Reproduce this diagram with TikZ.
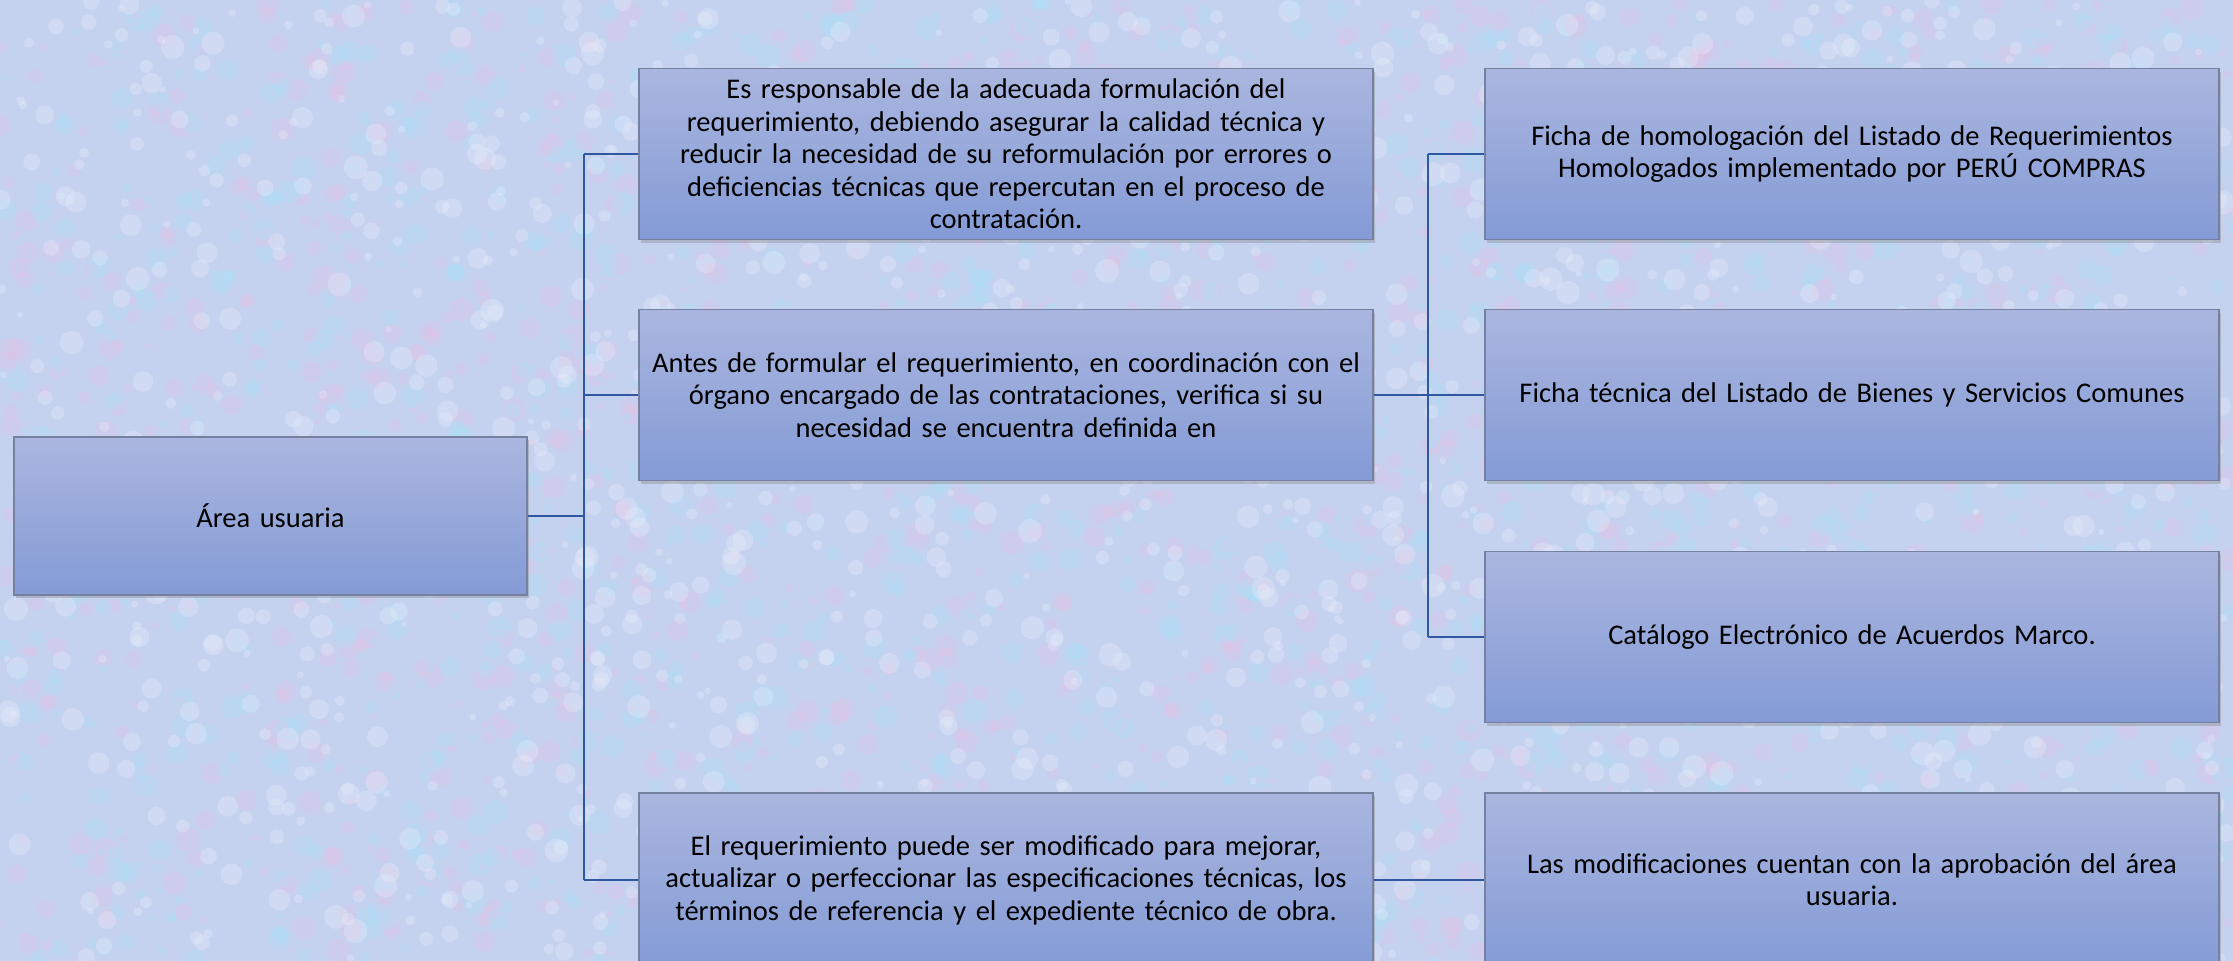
\documentclass[tikz,border=0pt]{standalone}
\usepackage{fontspec}
\setmainfont{Carlito}
\usetikzlibrary{shadows}
\definecolor{bgbase}{RGB}{196,210,240}
\definecolor{bgpink}{RGB}{232,192,228}
\definecolor{bgcyan}{RGB}{170,226,248}
\definecolor{bgwhite}{RGB}{236,238,250}
\definecolor{boxtop}{RGB}{170,182,223}
\definecolor{boxbot}{RGB}{132,155,214}
\definecolor{boxline}{RGB}{118,128,160}
\definecolor{linkblue}{RGB}{47,88,160}
\tikzset{
  card/.style={draw=boxline, line width=1.5pt, top color=boxtop, bottom color=boxbot,
    rectangle, inner sep=0pt, align=center, text=black,
    font=\fontsize{28.5}{32.4}\selectfont,
    drop shadow={shadow xshift=2pt, shadow yshift=-3pt, opacity=0.35}},
  wide/.style={card, minimum width=734pt, minimum height=171pt, text width=725pt},
  link/.style={draw=linkblue, line width=2.6pt}
}
\begin{document}
\begin{tikzpicture}[x=1pt,y=-1pt]
\useasboundingbox (0,0) rectangle (2233,961);
\clip (0,0) rectangle (2233,961);
% background texture
\fill[bgbase] (0,0) rectangle (2233,961);
\pgfmathsetseed{7}
\foreach \c in {bgpink,bgcyan,bgwhite}{
  \foreach \i in {1,...,1400}{
    \pgfmathsetmacro{\px}{rnd*2233}
    \pgfmathsetmacro{\py}{rnd*961}
    \pgfmathsetmacro{\pr}{3+rnd*9}
    \fill[\c, opacity=0.3] (\px,\py) circle (\pr);
  }
}
% nodes
\node[card, minimum width=513pt, minimum height=158pt, text width=500pt] (main) at (270.5,516) {Área usuaria};
\node[wide] (b1) at (1006,154) {Es responsable de la adecuada formulación del\\requerimiento, debiendo asegurar la calidad técnica y\\reducir la necesidad de su reformulación por errores o\\deficiencias técnicas que repercutan en el proceso de\\contratación.};
\node[wide] (b2) at (1006,395) {Antes de formular el requerimiento, en coordinación con el\\órgano encargado de las contrataciones, verifica si su\\necesidad se encuentra definida en\\[32.4pt]};
\node[wide, minimum height=174pt] (b3) at (1006,880) {El requerimiento puede ser modificado para mejorar,\\actualizar o perfeccionar las especificaciones técnicas, los\\términos de referencia y el expediente técnico de obra.};
\node[wide] (r1) at (1852,154) {Ficha de homologación del Listado de Requerimientos\\Homologados implementado por PERÚ COMPRAS};
\node[wide] (r2) at (1852,395) {Ficha técnica del Listado de Bienes y Servicios Comunes};
\node[wide] (r3) at (1852,637) {Catálogo Electrónico de Acuerdos Marco.};
\node[wide, minimum height=174pt] (r4) at (1852,880) {Las modificaciones cuentan con la aprobación del área\\usuaria.};
% trunks
\coordinate (tL) at (584,0);
\coordinate (tR) at (1428,0);
\draw[link] (main.east) -- (main.east -| tL);
\draw[link] (b1.west -| tL) -- (b3.west -| tL);
\draw[link] (b1.west -| tL) -- (b1.west);
\draw[link] (b2.west -| tL) -- (b2.west);
\draw[link] (b3.west -| tL) -- (b3.west);
\draw[link] (b2.east) -- (r2.west);
\draw[link] (r1.west -| tR) -- (r3.west -| tR);
\draw[link] (r1.west -| tR) -- (r1.west);
\draw[link] (r3.west -| tR) -- (r3.west);
\draw[link] (b3.east) -- (r4.west);
\end{tikzpicture}
\end{document}
